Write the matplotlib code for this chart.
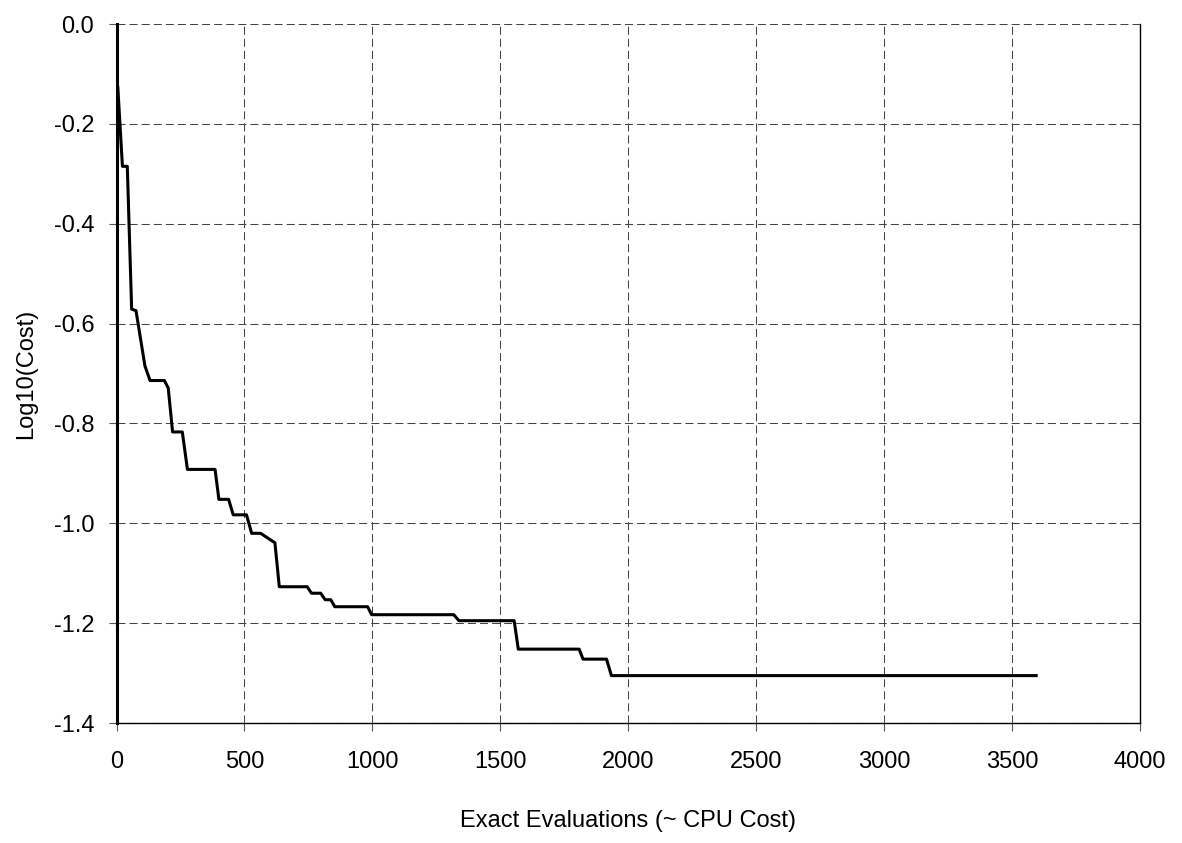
import matplotlib.pyplot as plt

plt.rcParams['font.family'] = ['Liberation Sans', 'DejaVu Sans']

# best cost found so far vs number of exact evaluations
evals = [5, 23, 42, 59, 76, 111, 131, 187, 202, 219, 257, 277, 385, 400, 438,
         456, 508, 528, 563, 619, 636, 745, 762, 798, 815, 837, 853, 981, 997,
         1318, 1338, 1554, 1570, 1808, 1823, 1915, 1934, 3594]
log_cost = [-0.127, -0.285, -0.285, -0.571, -0.574, -0.685, -0.714, -0.714,
            -0.729, -0.817, -0.817, -0.892, -0.892, -0.952, -0.952, -0.983,
            -0.983, -1.020, -1.020, -1.039, -1.127, -1.127, -1.140, -1.140,
            -1.153, -1.153, -1.167, -1.167, -1.183, -1.183, -1.195, -1.195,
            -1.252, -1.252, -1.272, -1.272, -1.305, -1.305]

x_ticks = [0, 500, 1000, 1500, 2000, 2500, 3000, 3500, 4000]
y_ticks = [0.0, -0.2, -0.4, -0.6, -0.8, -1.0, -1.2, -1.4]

fig = plt.figure(figsize=(11.82, 8.43), dpi=100)
ax = fig.add_axes([0.0986, 0.1423, 0.8659, 0.8292])

ax.plot(evals, log_cost, color='black', linewidth=2.2, zorder=3)

ax.set_xlim(0, 4000)
ax.set_ylim(-1.4, 0.0)
ax.set_xticks(x_ticks)
ax.set_yticks(y_ticks)
ax.set_xticklabels([str(t) for t in x_ticks])
ax.set_yticklabels([f'{t:.1f}' for t in y_ticks])

ax.grid(True, color='#444444', linewidth=0.75, linestyle=(0, (7.7, 3.9)))
ax.set_axisbelow(True)

ax.spines['top'].set_visible(False)
ax.spines['left'].set_linewidth(2.2)
ax.spines['bottom'].set_linewidth(1.0)
ax.spines['right'].set_linewidth(1.0)

ax.tick_params(axis='both', direction='out', length=6, width=0.8,
               color='#555555', labelsize=17)
ax.tick_params(axis='y', pad=10)
ax.tick_params(axis='x', pad=14)

ax.set_xlabel('Exact Evaluations (~ CPU Cost)', fontsize=17)
ax.set_ylabel('Log10(Cost)', fontsize=17)
ax.xaxis.set_label_coords(0.5, -0.124)
ax.yaxis.set_label_coords(-0.0777, 0.5)

fig.savefig('out.png', dpi=100)
